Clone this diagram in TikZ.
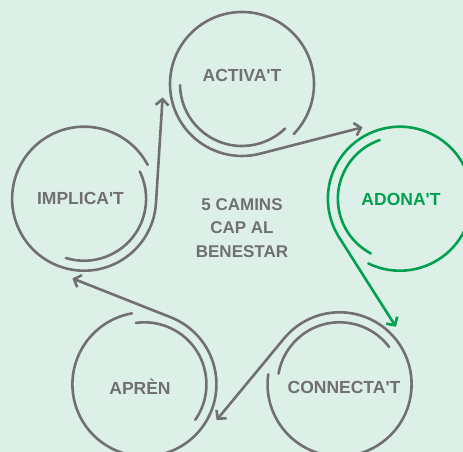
\documentclass[tikz,border=0pt]{standalone}
\usepackage{fontspec}
\newfontfamily\lblfont{Liberation Sans}
\usetikzlibrary{calc,arrows.meta}
\definecolor{bgmint}{RGB}{221,240,232}
\definecolor{ringgray}{RGB}{112,112,112}
\definecolor{ringgreen}{RGB}{0,160,80}
\newcommand{\apos}{\textquotesingle}
\tikzset{
  ring/.style={line width=2.6pt, line cap=round, draw=ringgray},
  arrowring/.style={ring, -{Straight Barb[length=6pt,width=13pt,line width=2.6pt]}},
  lbl/.style={font=\lblfont\fontsize{17.5}{20}\selectfont\bfseries, text=ringgray, inner sep=0pt, text height=12.5pt, text depth=0pt},
}
\begin{document}
\begin{tikzpicture}[x=1pt,y=1pt]
\fill[bgmint] (0,0) rectangle (463,452);
\useasboundingbox (0,0) rectangle (463,452);
\coordinate (O) at (242,202);
% circle centres
\coordinate (act) at ($(O)+(90:166)$);
\coordinate (ado) at ($(O)+(18:166)$);
\coordinate (con) at ($(O)+(-54:166)$);
\coordinate (apr) at ($(O)+(-126:166)$);
\coordinate (imp) at ($(O)+(-198:166)$);
% arrow tips
\coordinate (actTip) at ($(O)+(45.5:172)$);
\coordinate (adoTip) at ($(O)+(-26.5:172)$);
\coordinate (conTip) at ($(O)+(-98.5:172)$);
\coordinate (aprTip) at ($(O)+(-170.5:172)$);
\coordinate (impTip) at ($(O)+(-242.5:172)$);
% ACTIVA'T
\draw[ring] ($(act)+(181:62)$) arc[start angle=181, end angle=314, radius=62];
\draw[arrowring] ($(act)+(316:72)$) arc[start angle=316, delta angle=328.5, radius=72] -- (actTip);
% ADONA'T (green)
\draw[ring, draw=ringgreen] ($(ado)+(109:62)$) arc[start angle=109, end angle=242, radius=62];
\draw[arrowring, draw=ringgreen] ($(ado)+(244:72)$) arc[start angle=244, delta angle=328.5, radius=72] -- (adoTip);
% CONNECTA'T
\draw[ring] ($(con)+(37:62)$) arc[start angle=37, end angle=170, radius=62];
\draw[arrowring] ($(con)+(172:72)$) arc[start angle=172, delta angle=328.5, radius=72] -- (conTip);
% APREN
\draw[ring] ($(apr)+(-35:62)$) arc[start angle=-35, end angle=98, radius=62];
\draw[arrowring] ($(apr)+(100:72)$) arc[start angle=100, delta angle=328.5, radius=72] -- (aprTip);
% IMPLICA'T
\draw[ring] ($(imp)+(-107:62)$) arc[start angle=-107, end angle=26, radius=62];
\draw[arrowring] ($(imp)+(28:72)$) arc[start angle=28, delta angle=328.5, radius=72] -- (impTip);
% labels
\node[lbl] (actL) at (242,377) {ACTIVA\apos T};
\node[lbl, text=ringgreen] (adoL) at (401,253) {ADONA\apos T};
\node[lbl] (conL) at (344,64.5) {CONNECTA\apos T};
\node[lbl] (aprL) at (140,64) {APRÈN};
\node[lbl] (impL) at (80.5,253.5) {IMPLICA\apos T};
\node[font=\lblfont\fontsize{17}{23.5}\selectfont\bfseries, text=ringgray, align=center, inner sep=0pt] (title) at (242,224) {5 CAMINS\\CAP AL\\BENESTAR};
\end{tikzpicture}
\end{document}
